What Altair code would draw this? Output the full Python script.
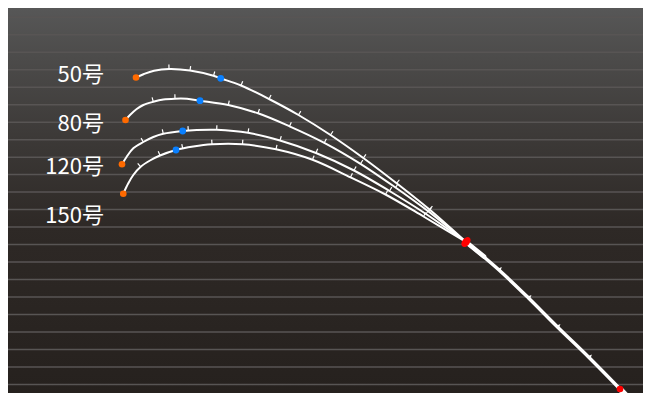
import math
import numpy as np
import pandas as pd
import altair as alt

# ---------------- data ----------------
# rod line weights
labels = ["50号", "80号", "120号", "150号"]

# rod shape per weight: horizontal position and drop (picture units)
rod_x = {
    "50号": [136, 144, 154, 169, 190, 213.5, 221, 241, 269, 298.5, 330.5, 363.3, 396.6, 429.5, 466],
    "80号": [125.5, 130, 136.7, 143.3, 153.3, 163.3, 175, 187, 200, 228.3, 258, 289.5, 324.3, 360.5, 395.5, 428.5, 466],
    "120号": [122, 126.7, 133.3, 143.3, 153.3, 163.3, 182.7, 196.7, 216.7, 248, 280, 316, 354, 389.5, 426, 466],
    "150号": [123.3, 128.3, 133.3, 140.7, 150, 160, 176, 193.3, 212, 242.5, 276, 312.5, 350.5, 385.5, 423.5, 466],
}
rod_y = {
    "50号": [77.5, 74, 70.8, 69, 70.5, 75.8, 78.5, 85.5, 99, 115, 135, 158, 183.3, 209.6, 242],
    "80号": [120, 115, 109, 105, 101.8, 99.5, 98.7, 98.8, 100.7, 105, 113.3, 126.3, 142.8, 163.8, 187.5, 211.5, 242],
    "120号": [164.3, 156.7, 148.3, 142, 137, 133.8, 131, 130, 129.8, 132.8, 140.5, 153, 170.5, 191, 214, 242],
    "150号": [193.7, 183.3, 175, 166.8, 160.5, 155.5, 150, 146.5, 144.3, 144.3, 149.3, 159.8, 177.3, 194.5, 216.5, 242],
}

# rod guides on each tip section
guide_x = {
    "50号": [169, 190, 213.5, 241, 269, 298.5, 330.5, 363.3, 396.6, 429.5],
    "80号": [153.3, 175, 228.3, 258, 289.5, 324.3, 360.5, 395.5, 428.5],
    "120号": [143.3, 163.3, 188.3, 216.7, 248, 280, 316, 354, 389.5, 426],
    "150号": [140.7, 160, 182.7, 212, 242.5, 276, 312.5, 350.5, 385.5, 423.5],
}
guide_y = {
    "50号": [69, 70.5, 75.8, 85.5, 99, 115, 135, 158, 183.3, 209.6],
    "80号": [101.8, 98.7, 105, 113.3, 126.3, 142.8, 163.8, 187.5, 211.5],
    "120号": [142, 133.8, 130.6, 129.8, 132.8, 140.5, 153, 170.5, 191, 214],
    "150号": [166.8, 155.5, 148.5, 144.3, 144.3, 149.3, 159.8, 177.3, 194.5, 216.5],
}

# blue marker on each tip section
blue_x = [220.7, 200, 182.7, 176]
blue_y = [78.3, 100.7, 131, 150]

# butt section
butt_x = [466, 499, 528.5, 557.5, 589, 620]
butt_y = [242, 270, 298, 327, 357.5, 389]
ferrule_x = [466, 484]
ferrule_y = [242, 256.5]
grip_x = [620, 642]
grip_y = [389, 412]
butt_guide_x = [466, 499, 528.5, 557.5, 589]
butt_guide_y = [242, 270, 298, 327, 357.5]
butt_guide_size = [40, 70, 70, 70, 70]

joint_x, joint_y = [466], [242]
end_x, end_y = [620], [389]

# label baselines
label_y = [81.7, 131, 174.3, 222.7]
label_right = 104

# background rulings
grid_y = [17.3 + 17.48 * k for k in range(22)]

# ---------------- tables ----------------
W, H = 635, 385
xs = alt.Scale(domain=[8, 643], nice=False, zero=False)
ys = alt.Scale(domain=[8, 393], reverse=True, nice=False, zero=False)


def tangent_deg(cx, cy, px):
    a = np.array(cx, dtype=float)
    b = np.array(cy, dtype=float)
    y1 = np.interp(px - 2, a, b)
    y2 = np.interp(px + 2, a, b)
    return math.degrees(math.atan2(y2 - y1, 4.0)) % 360


line_rows, guide_rows, tip_rows = [], [], []
for name in labels:
    for i, (x, y) in enumerate(zip(rod_x[name], rod_y[name])):
        line_rows.append({"curve": name, "i": i, "x": x, "y": y})
    for x, y in zip(guide_x[name], guide_y[name]):
        guide_rows.append({"curve": name, "x": x, "y": y,
                           "ang": tangent_deg(rod_x[name], rod_y[name], x)})
    tip_rows.append({"curve": name, "x": rod_x[name][0], "y": rod_y[name][0]})

df_lines = pd.DataFrame(line_rows)
df_guides = pd.DataFrame(guide_rows)
df_tips = pd.DataFrame(tip_rows)
df_blue = pd.DataFrame({"x": blue_x, "y": blue_y})
df_butt = pd.DataFrame({"i": range(len(butt_x)), "x": butt_x, "y": butt_y})
df_ferrule = pd.DataFrame({"i": range(len(ferrule_x)), "x": ferrule_x, "y": ferrule_y})
df_grip = pd.DataFrame({"i": range(len(grip_x)), "x": grip_x, "y": grip_y})
df_bguides = pd.DataFrame({
    "x": butt_guide_x, "y": butt_guide_y, "s": butt_guide_size,
    "ang": [tangent_deg(butt_x, butt_y, max(x, 468)) for x in butt_guide_x],
})
df_joint = pd.DataFrame({"x": joint_x, "y": joint_y})
df_end = pd.DataFrame({"x": end_x, "y": end_y})
df_labels = pd.DataFrame({"t": labels, "y": label_y})
df_grid = pd.DataFrame({"g": grid_y})

joint_angle = (tangent_deg(butt_x, butt_y, 470) - 90) % 360

X = alt.X("x:Q", scale=xs, axis=None)
Y = alt.Y("y:Q", scale=ys, axis=None)

gradient = alt.Gradient(
    gradient="linear",
    stops=[
        alt.GradientStop(offset=0, color="#575757"),
        alt.GradientStop(offset=0.13, color="#4c4b4a"),
        alt.GradientStop(offset=0.34, color="#3c3937"),
        alt.GradientStop(offset=0.565, color="#2e2926"),
        alt.GradientStop(offset=1, color="#26211e"),
    ],
    x1=0, x2=0, y1=0, y2=1,
)

bg = alt.Chart(pd.DataFrame({"a": [0]})).mark_rect(fill=gradient).encode(
    x=alt.value(0), x2=alt.value(W), y=alt.value(0), y2=alt.value(H)
)

grid = alt.Chart(df_grid).mark_rule(color="#585554", strokeWidth=1.5).encode(
    y=alt.Y("g:Q", scale=ys, axis=None), x=alt.value(0), x2=alt.value(W)
)

lines = alt.Chart(df_lines).mark_line(
    color="white", strokeWidth=2, interpolate="catmull-rom", strokeCap="round"
).encode(x=X, y=Y, detail="curve:N", order="i:Q")

guides = alt.Chart(df_guides).mark_point(
    shape="M0,0L0,-1", filled=False, color="white", strokeWidth=1.2, size=81, opacity=1
).encode(x=X, y=Y, angle=alt.Angle("ang:Q", scale=None))

butt = alt.Chart(df_butt).mark_line(
    color="white", strokeWidth=3.4, interpolate="catmull-rom"
).encode(x=X, y=Y, order="i:Q")

ferrule = alt.Chart(df_ferrule).mark_line(
    color="white", strokeWidth=4.6, strokeCap="round"
).encode(x=X, y=Y, order="i:Q")

grip = alt.Chart(df_grip).mark_line(
    color="white", strokeWidth=5.5, clip=True
).encode(x=X, y=Y, order="i:Q")

bguides = alt.Chart(df_bguides).mark_point(
    shape="M-0.45,0L0,-1L0.45,0Z", filled=True, color="white", opacity=1
).encode(x=X, y=Y, size=alt.Size("s:Q", scale=None),
         angle=alt.Angle("ang:Q", scale=None))

tips = alt.Chart(df_tips).mark_circle(color="#ff6a00", size=44, opacity=1).encode(x=X, y=Y)
blue = alt.Chart(df_blue).mark_circle(color="#0a80ff", size=46, opacity=1).encode(x=X, y=Y)
end_dot = alt.Chart(df_end).mark_circle(color="#ff0000", size=44, opacity=1).encode(x=X, y=Y)
joint = alt.Chart(df_joint).mark_point(
    shape="M-1,0A1,0.65,0,1,1,1,0A1,0.65,0,1,1,-1,0Z",
    filled=True, color="#ff0000", size=130, opacity=1, angle=joint_angle,
).encode(x=X, y=Y)

text = alt.Chart(df_labels).mark_text(
    align="right", baseline="alphabetic", font="Noto Sans CJK JP",
    fontSize=22, color="#ffffff",
).encode(x=alt.X(datum=label_right, scale=xs, axis=None), y=Y, text="t:N")

chart = alt.layer(
    bg, grid, lines, guides, butt, ferrule, grip, bguides, tips, blue, end_dot, joint, text
).properties(
    width=W, height=H, padding=0, autosize="none"
).configure_view(stroke=None, strokeWidth=0)

chart.save("out.html", embed_options={"renderer": "svg", "actions": False})
